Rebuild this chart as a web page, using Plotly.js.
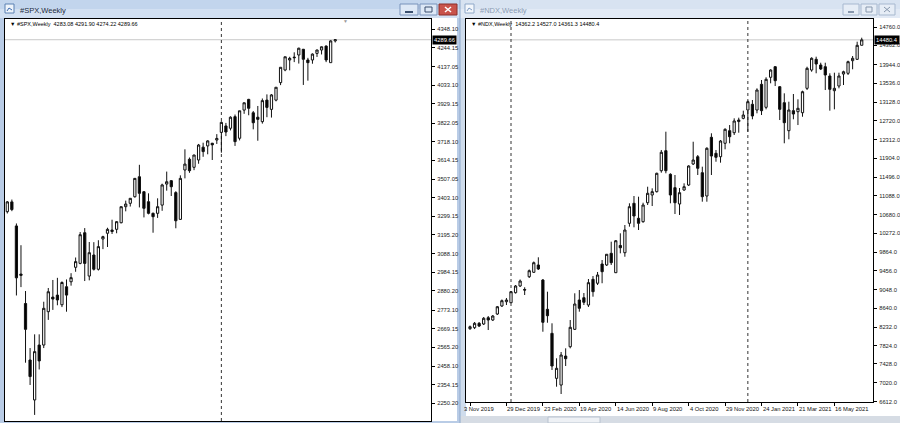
<!DOCTYPE html>
<html><head><meta charset="utf-8">
<script src="https://cdn.plot.ly/plotly-3.0.1.min.js"></script>
<style>html,body{margin:0;padding:0;background:#fff;overflow:hidden}#chart{width:900px;height:423px}</style>
</head><body><div id="chart"></div>
<script>
// ---------- #SPX, Weekly ----------
const spxDates = ['2020-02-09','2020-02-16','2020-02-23','2020-03-01','2020-03-08','2020-03-15','2020-03-22','2020-03-29','2020-04-05','2020-04-12','2020-04-19','2020-04-26','2020-05-03','2020-05-10','2020-05-17','2020-05-24','2020-05-31','2020-06-07','2020-06-14','2020-06-21','2020-06-28','2020-07-05','2020-07-12','2020-07-19','2020-07-26','2020-08-02','2020-08-09','2020-08-16','2020-08-23','2020-08-30','2020-09-06','2020-09-13','2020-09-20','2020-09-27','2020-10-04','2020-10-11','2020-10-18','2020-10-25','2020-11-01','2020-11-08','2020-11-15','2020-11-22','2020-11-29','2020-12-06','2020-12-13','2020-12-20','2020-12-27','2021-01-03','2021-01-10','2021-01-17','2021-01-24','2021-01-31','2021-02-07','2021-02-14','2021-02-21','2021-02-28','2021-03-07','2021-03-14','2021-03-21','2021-03-28','2021-04-04','2021-04-11','2021-04-18','2021-04-25','2021-05-02','2021-05-09','2021-05-16','2021-05-23','2021-05-30','2021-06-06','2021-06-13','2021-06-20','2021-06-27'];
const spxOpen  = [3325,3380,3245,2975,2810,2493,2269,2577,2577,2764,2846,2857,2803,2904,2932,3013,3035,3207,2964,3082,3002,3172,3204,3222,3226,3263,3353,3372,3409,3521,3437,3381,3316,3316,3362,3480,3499,3432,3282,3559,3619,3574,3615,3687,3694,3709,3727,3770,3806,3793,3858,3737,3895,3955,3880,3855,3830,3951,3899,3951,4049,4120,4176,4192,4204,4236,4176,4176,4213,4232,4254,4161,4283.08];
const spxHigh  = [3385,3393,3259,3137,2880,2560,2637,2637,2820,2897,2942,2954,2934,2945,2980,3068,3211,3233,3155,3154,3165,3190,3235,3280,3272,3352,3387,3399,3509,3588,3440,3428,3320,3400,3482,3550,3502,3440,3529,3675,3629,3644,3705,3712,3726,3711,3760,3832,3823,3860,3870,3891,3937,3958,3890,3918,3960,3983,3985,4023,4135,4194,4194,4219,4245,4238,4188,4213,4234,4252,4258,4287,4291.90];
const spxLow   = [3315,3328,2855,2902,2478,2353,2185,2440,2560,2718,2774,2800,2790,2764,2910,2988,3030,2936,2940,2995,2995,3115,3127,3200,3204,3260,3327,3354,3404,3349,3293,3310,3207,3290,3330,3443,3413,3232,3279,3512,3543,3558,3594,3633,3647,3615,3705,3656,3749,3781,3694,3725,3874,3866,3787,3723,3819,3855,3853,3944,4035,4113,4118,4164,4156,4036,4060,4155,4193,4207,4164,4161,4274.22];
const spxClose = [3380,3337,2954,2968,2665,2400,2540,2488,2783,2876,2835,2830,2928,2857,2955,3045,3196,3035,3095,3002,3129,3185,3226,3214,3269,3353,3368,3400,3512,3428,3344,3316,3297,3353,3475,3493,3465,3274,3512,3592,3555,3643,3699,3662,3722,3700,3736,3826,3772,3855,3718,3891,3936,3905,3824,3843,3948,3910,3980,4023,4135,4194,4185,4189,4242,4180,4161,4209,4232,4250,4176,4283,4289.66];
const spxPriceTicks = [4348.10,4244.15,4137.05,4033.10,3929.15,3822.05,3718.10,3614.15,3507.05,3403.10,3299.15,3195.20,3088.10,2984.15,2880.20,2773.10,2669.15,2565.20,2458.10,2354.15,2250.20];

// ---------- #NDX, Weekly ----------
const ndxDates = ['2019-11-03','2019-11-10','2019-11-17','2019-11-24','2019-12-01','2019-12-08','2019-12-15','2019-12-22','2019-12-29','2020-01-05','2020-01-12','2020-01-19','2020-01-26','2020-02-02','2020-02-09','2020-02-16','2020-02-23','2020-03-01','2020-03-08','2020-03-15','2020-03-22','2020-03-29','2020-04-05','2020-04-12','2020-04-19','2020-04-26','2020-05-03','2020-05-10','2020-05-17','2020-05-24','2020-05-31','2020-06-07','2020-06-14','2020-06-21','2020-06-28','2020-07-05','2020-07-12','2020-07-19','2020-07-26','2020-08-02','2020-08-09','2020-08-16','2020-08-23','2020-08-30','2020-09-06','2020-09-13','2020-09-20','2020-09-27','2020-10-04','2020-10-11','2020-10-18','2020-10-25','2020-11-01','2020-11-08','2020-11-15','2020-11-22','2020-11-29','2020-12-06','2020-12-13','2020-12-20','2020-12-27','2021-01-03','2021-01-10','2021-01-17','2021-01-24','2021-01-31','2021-02-07','2021-02-14','2021-02-21','2021-02-28','2021-03-07','2021-03-14','2021-03-21','2021-03-28','2021-04-04','2021-04-11','2021-04-18','2021-04-25','2021-05-02','2021-05-09','2021-05-16','2021-05-23','2021-05-30','2021-06-06','2021-06-13','2021-06-20','2021-06-27'];
const ndxOpen  = [8196,8218,8313,8298,8435,8385,8515,8690,8783,8761,8979,9125,9050,9327,9423,9582,9255,8618,8095,7116,6970,7601,7804,8182,8820,8870,8711,9270,9185,9603,9582,9836,9414,10007,9849,10489,10924,10598,10524,10937,11105,11177,11633,12069,11555,11264,10909,11213,11322,11779,11938,11590,11083,12360,12012,11938,12230,12504,12460,12702,12773,12954,13078,12954,13513,13013,13666,13896,13461,13113,12504,12939,12917,12895,13426,13824,14057,13933,13896,13694,13374,13476,13737,13753,14027,14057,14362.2];
const ndxHigh  = [8265,8341,8341,8450,8472,8494,8690,8831,8864,9016,9146,9266,9097,9484,9658,9749,9277,9001,8313,7552,7689,7769,8385,8966,9037,8972,9277,9342,9430,9690,9821,10089,10125,10271,10452,10924,11083,11068,10937,11285,11250,11590,12084,12482,11577,11540,11257,11359,11751,12264,11975,11721,12143,12447,12084,12301,12556,12627,12773,12787,12939,13161,13172,13426,13607,13666,13840,13911,13476,13317,13135,13302,13187,13374,13896,14101,14114,13983,13983,13753,13766,13766,13809,14027,14129,14440,14527.0];
const ndxLow   = [8170,8188,8232,8276,8167,8363,8494,8668,8711,8755,8961,9103,8929,9299,9408,9473,8130,8326,7297,6934,6775,7384,7769,8167,8566,8711,8668,8892,9146,9185,9560,9582,9408,9836,9762,10416,10402,10343,10502,10887,10865,11159,11590,11577,10924,10691,10670,11198,11300,11757,11540,10959,10959,11540,11829,11808,12099,12230,12410,12460,12752,12482,12752,12882,12845,12969,13535,13476,12736,12230,12317,12752,12627,12808,13389,13787,13753,13824,13389,12939,12969,13426,13498,13716,13840,14042,14361.3];
const ndxClose = [8239,8313,8254,8422,8385,8472,8674,8805,8820,9001,9125,9233,9037,9458,9632,9495,8335,8478,7384,7334,7623,7543,8226,8733,8640,8770,9197,9001,9364,9436,9815,9632,10110,9957,10343,10850,10648,10489,10887,11142,11177,11577,12034,11633,11105,10937,11155,11285,11736,11866,11686,11068,12121,11953,11925,12280,12534,12373,12715,12736,12845,13135,12824,13389,12939,13622,13824,13592,12969,12678,12954,12867,12991,13352,13861,14079,13955,13846,13716,13404,13426,13694,13787,14005,14079,14362,14480.4];
const ndxPriceTicks = [14760.0,14362.0,13944.0,13536.0,13128.0,12720.0,12312.0,11904.0,11496.0,11088.0,10680.0,10272.0,9864.0,9456.0,9048.0,8640.0,8232.0,7824.0,7428.0,7020.0,6612.0];
const ndxTimeTicks = ['2019-11-03','2019-12-29','2020-02-23','2020-04-19','2020-06-14','2020-08-09','2020-10-04','2020-11-29','2021-01-24','2021-03-21','2021-05-16'];
const ndxTimeLabels = ['3 Nov 2019','29 Dec 2019','23 Feb 2020','19 Apr 2020','14 Jun 2020','9 Aug 2020','4 Oct 2020','29 Nov 2020','24 Jan 2021','21 Mar 2021','16 May 2021'];

// ---------- drawing ----------
const W = 900, H = 423;
const X = p => p / W, Y = p => 1 - p / H;
const FONT = 'Liberation Sans, Arial, DejaVu Sans, sans-serif';

function rect(x0, y0, x1, y1, fill, line, layer) {
  return {type:'rect', xref:'paper', yref:'paper', x0:X(x0), x1:X(x1), y0:Y(y1), y1:Y(y0),
    fillcolor: fill, line: line ? {color: line, width: 1} : {width: 0}, layer: layer || 'below'};
}
function seg(x0, y0, x1, y1, color, width) {
  return {type:'line', xref:'paper', yref:'paper', x0:X(x0), x1:X(x1), y0:Y(y0), y1:Y(y1),
    line:{color: color, width: width || 1}, layer:'above'};
}
function yearStarts(dates) {
  const out = [];
  for (let i = 1; i < dates.length; i++) if (dates[i].slice(0,4) !== dates[i-1].slice(0,4)) out.push(dates[i]);
  return out;
}
function candle(x, o, h, l, c, xa, ya) {
  return {type:'candlestick', x:x, open:o, high:h, low:l, close:c, xaxis:xa, yaxis:ya,
    whiskerwidth: 0, hoverinfo:'skip', showlegend:false,
    increasing:{line:{color:'#111', width:1}, fillcolor:'#ffffff'},
    decreasing:{line:{color:'#111', width:1}, fillcolor:'#000000'}};
}

const traces = [
  candle(spxDates, spxOpen, spxHigh, spxLow, spxClose, 'x', 'y'),
  candle(ndxDates, ndxOpen, ndxHigh, ndxLow, ndxClose, 'x2', 'y2')
];

const shapes = [];
// left window (active)
shapes.push(rect(0, 0, 460, 423, '#b9cce6'));
shapes.push(rect(0, 0, 460, 9, '#c2d5ed'));
shapes.push(rect(0, 9, 460, 18, '#d2e0f2'));
shapes.push(rect(5, 18, 457, 421, '#ffffff'));
// right window (inactive)
shapes.push(rect(460, 0, 900, 423, '#cfdcec'));
shapes.push(rect(460, 0, 900, 9, '#d8e3f1'));
shapes.push(rect(460, 9, 900, 18, '#e2eaf5'));
shapes.push(rect(466, 18, 900, 416, '#ffffff'));
shapes.push(rect(460, 416, 900, 423, '#d6dce4'));
shapes.push(rect(548, 417, 600, 423, '#eef1f5', '#b8c2cf'));
shapes.push(seg(460, 0, 460, 423, '#8ea9cc', 1));
// title icons
shapes.push(rect(5, 4, 14, 13, '#eef4fb', '#5b80b2'));
shapes.push(seg(7, 11, 9, 8, '#3d6bb0', 1));
shapes.push(seg(9, 8, 12, 10, '#3d6bb0', 1));
shapes.push(rect(465, 4, 474, 13, '#f3f7fc', '#8fa8c8'));
shapes.push(seg(467, 11, 469, 8, '#7f9cc4', 1));
shapes.push(seg(469, 8, 472, 10, '#7f9cc4', 1));
// left buttons
shapes.push(rect(400, 4, 418, 15, '#dde8f6', '#7892ba'));
shapes.push(seg(405, 12, 413, 12, '#3a4f6e', 2));
shapes.push(rect(420, 4, 437, 15, '#dde8f6', '#7892ba'));
shapes.push(rect(425, 7, 432, 12, 'rgba(0,0,0,0)', '#3a4f6e', 'above'));
shapes.push(rect(439, 4, 457, 15, '#c9534b', '#8c2f2a'));
shapes.push(seg(445, 7, 451, 12, '#ffffff', 1.5));
shapes.push(seg(451, 7, 445, 12, '#ffffff', 1.5));
// right buttons
shapes.push(rect(843, 4, 859, 15, '#e6edf6', '#a7b8cf'));
shapes.push(seg(848, 12, 854, 12, '#8797ad', 2));
shapes.push(rect(861, 4, 877, 15, '#e6edf6', '#a7b8cf'));
shapes.push(rect(866, 7, 872, 12, 'rgba(0,0,0,0)', '#8797ad', 'above'));
shapes.push(rect(879, 4, 895, 15, '#e6edf6', '#a7b8cf'));
shapes.push(seg(884, 7, 890, 12, '#8797ad', 1));
shapes.push(seg(890, 7, 884, 12, '#8797ad', 1));

// price lines at last close
const spxLast = spxClose.length - 1, ndxLast = ndxClose.length - 1;
shapes.push({type:'line', xref:'x domain', yref:'y', x0:0, x1:1, y0:spxClose[spxLast], y1:spxClose[spxLast], line:{color:'#c8c8c8', width:1}, layer:'below'});
shapes.push({type:'line', xref:'x2 domain', yref:'y2', x0:0, x1:1, y0:ndxClose[ndxLast], y1:ndxClose[ndxLast], line:{color:'#c8c8c8', width:1}, layer:'below'});
// period separators (first bar of each year)
yearStarts(spxDates).forEach(d => shapes.push({type:'line', xref:'x', yref:'y domain', x0:d, x1:d, y0:0, y1:1, line:{color:'#333', width:1, dash:'dot'}, layer:'below'}));
yearStarts(ndxDates).forEach(d => shapes.push({type:'line', xref:'x2', yref:'y2 domain', x0:d, x1:d, y0:0, y1:1, line:{color:'#333', width:1, dash:'dot'}, layer:'below'}));

const annotations = [];
const nb = '\u00a0';
annotations.push({xref:'paper', yref:'paper', x:X(18), y:Y(10), xanchor:'left', yanchor:'middle', showarrow:false,
  text:'#SPX,Weekly', font:{family:FONT, size:7.5, color:'#1b2a40'}});
annotations.push({xref:'paper', yref:'paper', x:X(478), y:Y(10), xanchor:'left', yanchor:'middle', showarrow:false,
  text:'#NDX,Weekly', font:{family:FONT, size:7.5, color:'#8b9cb3'}});
annotations.push({xref:'paper', yref:'paper', x:X(8), y:Y(24), xanchor:'left', yanchor:'middle', showarrow:false,
  text:'\u25BC' + nb + '#SPX,Weekly' + nb + nb + spxOpen[spxLast].toFixed(2) + nb + spxHigh[spxLast].toFixed(2) + nb + spxLow[spxLast].toFixed(2) + nb + spxClose[spxLast].toFixed(2),
  font:{family:FONT, size:5.5, color:'#000'}});
annotations.push({xref:'paper', yref:'paper', x:X(469), y:Y(24), xanchor:'left', yanchor:'middle', showarrow:false,
  text:'\u25BC' + nb + '#NDX,Weekly' + nb + nb + ndxOpen[ndxLast].toFixed(1) + nb + ndxHigh[ndxLast].toFixed(1) + nb + ndxLow[ndxLast].toFixed(1) + nb + ndxClose[ndxLast].toFixed(1),
  font:{family:FONT, size:5.5, color:'#000'}});
// chart shift marker
annotations.push({xref:'paper', yref:'paper', x:X(345), y:Y(21), xanchor:'center', yanchor:'middle', showarrow:false,
  text:'\u25BC', font:{family:FONT, size:5, color:'#9a9a9a'}});
// last price boxes
annotations.push({xref:'paper', yref:'y', x:X(432), y:spxClose[spxLast], xanchor:'left', yanchor:'middle', showarrow:false,
  text:spxClose[spxLast].toFixed(2), bgcolor:'#000', borderpad:1, font:{family:FONT, size:5.8, color:'#fff'}});
annotations.push({xref:'paper', yref:'y2', x:X(874), y:ndxClose[ndxLast], xanchor:'left', yanchor:'middle', showarrow:false,
  text:ndxClose[ndxLast].toFixed(1), bgcolor:'#000', borderpad:1, font:{family:FONT, size:5.8, color:'#fff'}});
// NDX time scale labels
ndxTimeTicks.forEach((d, i) => annotations.push({xref:'x2', yref:'paper', x:d, y:Y(409), xanchor:'left', yanchor:'middle',
  xshift: i === 0 ? -8 : -1, showarrow:false, text:ndxTimeLabels[i], font:{family:FONT, size:5.8, color:'#111'}}));

const axCommon = {showgrid:false, zeroline:false, showline:true, mirror:true, linecolor:'#000', linewidth:1, fixedrange:true};
const layout = {
  width: W, height: H, margin:{l:0, r:0, t:0, b:0, pad:0},
  paper_bgcolor:'#ffffff', plot_bgcolor:'rgba(0,0,0,0)', showlegend:false,
  boxgap: 0.3, boxgroupgap: 0.3,
  font:{family:FONT, size:6, color:'#111'},
  xaxis: Object.assign({}, axCommon, {domain:[X(5), X(431)], type:'date', range:['2020-02-05 11:00','2021-11-21 05:00'],
    anchor:'y', ticks:'', showticklabels:false, rangeslider:{visible:false}}),
  yaxis: Object.assign({}, axCommon, {domain:[Y(421), Y(19)], range:[2150.9, 4405.9], side:'right', anchor:'x',
    tickmode:'array', tickvals:spxPriceTicks, ticktext:spxPriceTicks.map(v => v.toFixed(2)),
    ticks:'outside', ticklen:3, tickcolor:'#000', tickfont:{family:FONT, size:5.8, color:'#222'}, ticklabelstandoff:1}),
  xaxis2: Object.assign({}, axCommon, {domain:[X(466), X(873)], type:'date', range:['2019-10-27 20:00','2021-07-14 08:00'],
    anchor:'y2', tickmode:'array', tickvals:ndxTimeTicks, ticks:'outside', ticklen:3, tickcolor:'#000', showticklabels:false,
    rangeslider:{visible:false}}),
  yaxis2: Object.assign({}, axCommon, {domain:[Y(402), Y(18.5)], range:[6601, 14945], side:'right', anchor:'x2',
    tickmode:'array', tickvals:ndxPriceTicks, ticktext:ndxPriceTicks.map(v => v.toFixed(1)),
    ticks:'outside', ticklen:3, tickcolor:'#000', tickfont:{family:FONT, size:5.8, color:'#222'}, ticklabelstandoff:1}),
  shapes: shapes,
  annotations: annotations
};

Plotly.newPlot('chart', traces, layout, {staticPlot:true, displayModeBar:false});
</script>
</body></html>
